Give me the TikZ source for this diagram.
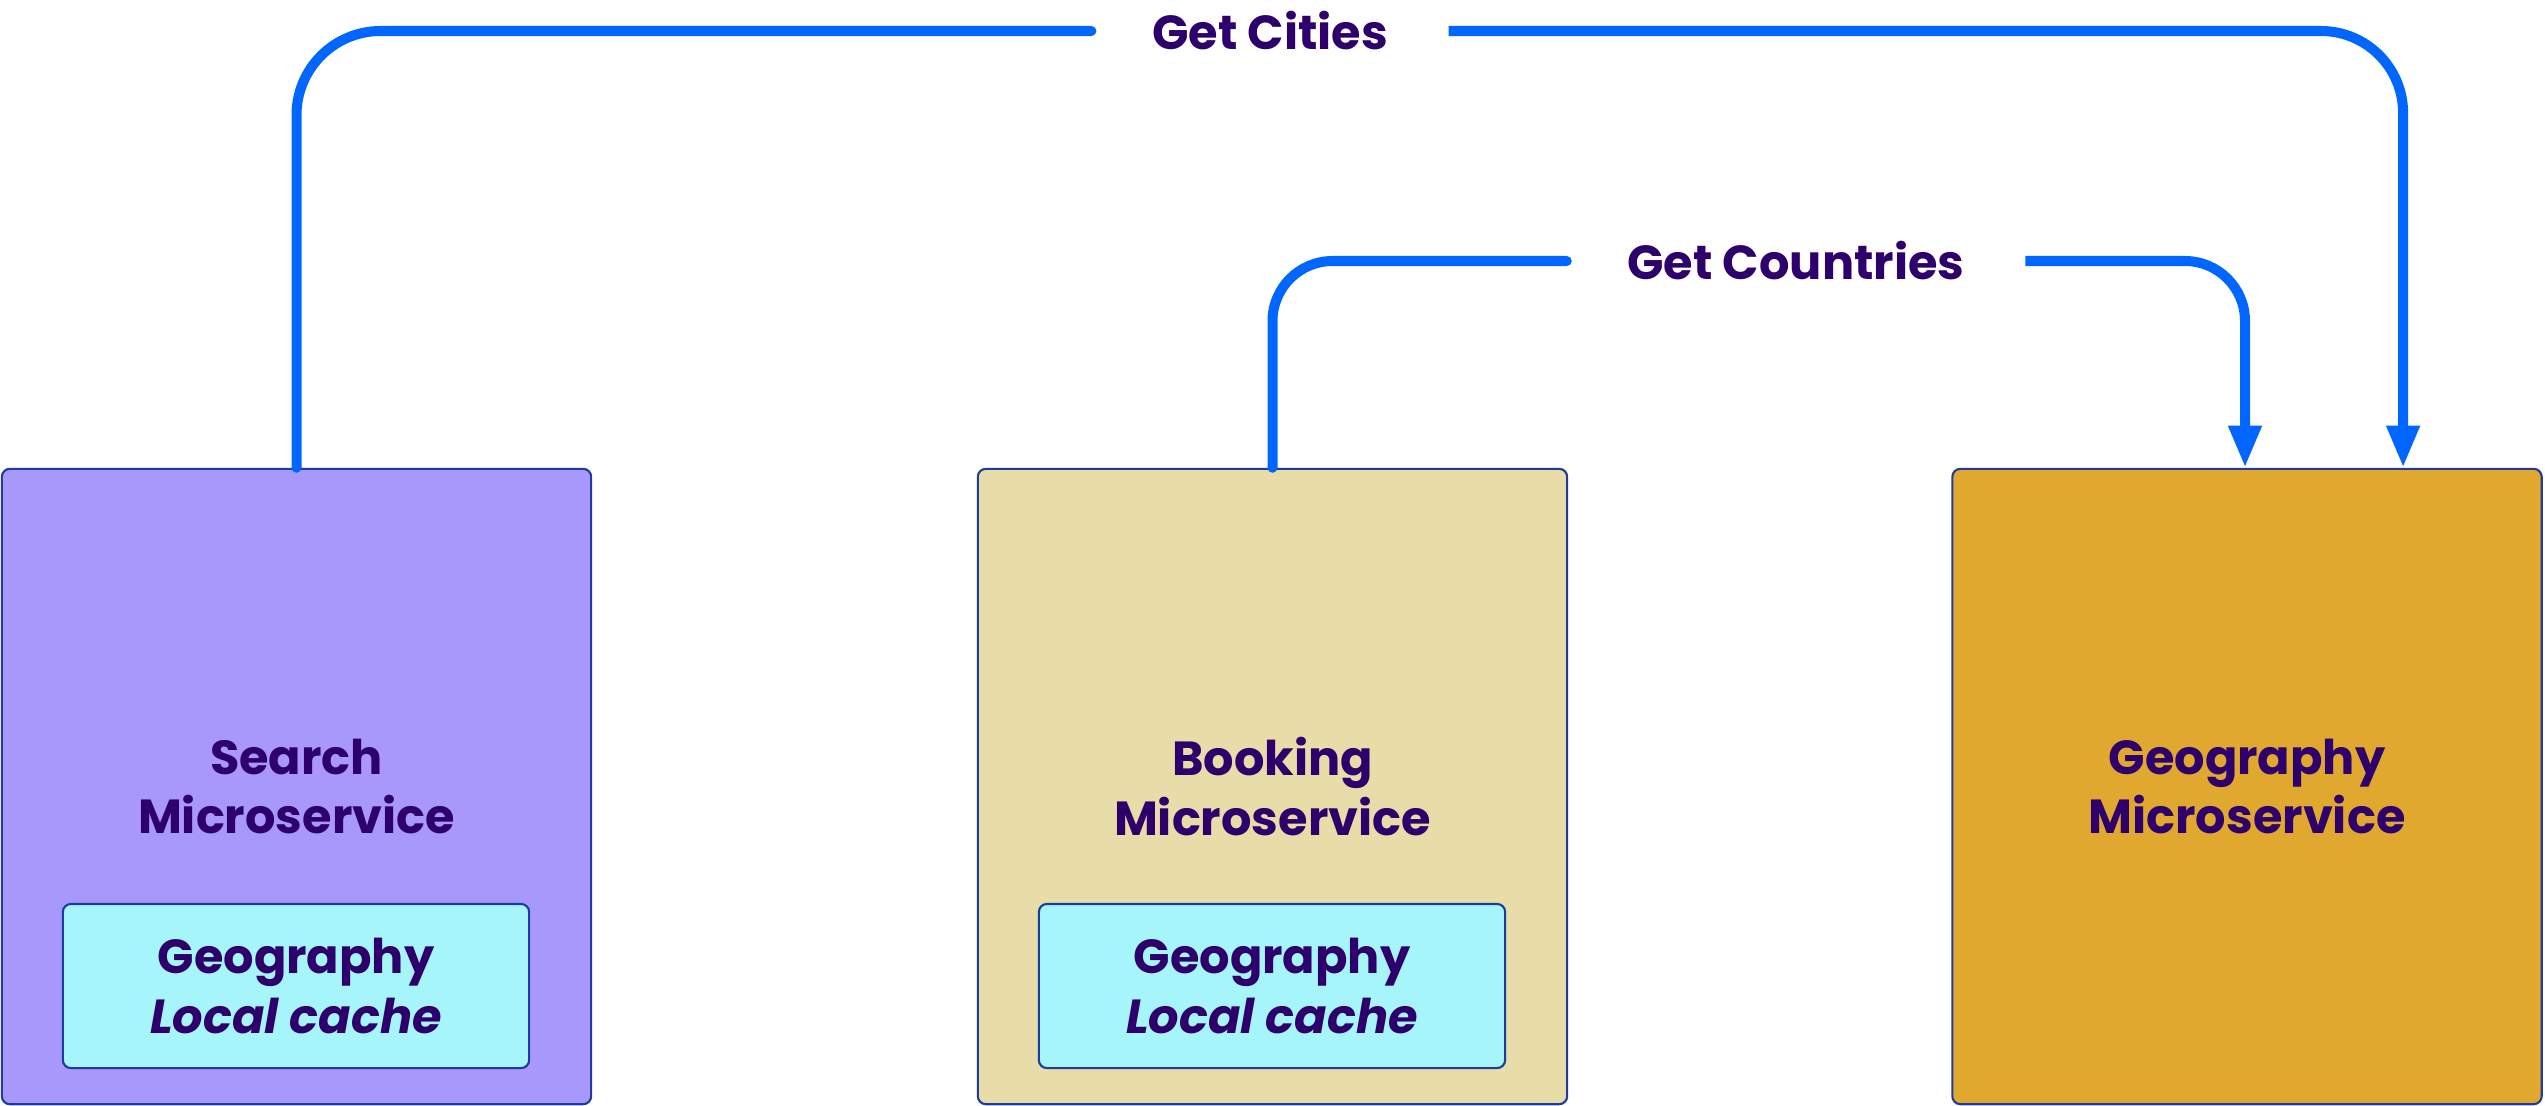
\documentclass[tikz,border=0pt]{standalone}
\usepackage{fontspec}
\setmainfont{Poppins}
\usetikzlibrary{arrows.meta}
\definecolor{searchfill}{HTML}{A898FB}
\definecolor{bookfill}{HTML}{E8DCA8}
\definecolor{geofill}{HTML}{E1A82F}
\definecolor{cachefill}{HTML}{A5F5FA}
\definecolor{edgeblue}{HTML}{1F3C9C}
\definecolor{linkblue}{HTML}{0066FF}
\definecolor{txt}{HTML}{2D006B}
\begin{document}
\begin{tikzpicture}[x=0.01cm,y=-0.01cm,
  txtstyle/.style={text=txt,font=\fontsize{13.6}{16.9}\selectfont\bfseries,align=center},
  svc/.style={txtstyle,draw=edgeblue,line width=0.6pt,rounded corners=0.08cm,
    minimum width=5.89cm,minimum height=6.35cm,inner sep=0pt},
  cache/.style={txtstyle,draw=edgeblue,fill=cachefill,line width=0.6pt,rounded corners=0.08cm,
    minimum width=4.66cm,minimum height=1.64cm,inner sep=0pt},
  lbl/.style={txtstyle,inner xsep=0.6cm,inner ysep=0pt},
  conn/.style={draw=linkblue,line width=0.1cm,line cap=round},
  tip/.style={-{Triangle[width=0.31cm,length=0.42cm]}}
]
\useasboundingbox (0,0) rectangle (2545,1106);
\node[svc,fill=searchfill] (search) at (296.5,786.5) {Search\\Microservice};
\node[cache] (cache1) at (296,986) {Geography\\\itshape Local cache};
\node[svc,fill=bookfill] (booking) at (1272.5,786.5) {Booking\\Microservice};
\node[cache] (cache2) at (1272,986) {Geography\\\itshape Local cache};
\node[svc,fill=geofill] (geo) at (2247,786.5) {Geography\\Microservice};
\node[lbl] (cities) at (1270,31) {Get Cities};
\node[lbl] (countries) at (1796,261) {Get Countries};
\draw[conn,rounded corners=0.84cm] (search.north) |- (cities.west);
\draw[conn,tip,rounded corners=0.82cm,line cap=butt] (cities.east) -| ([xshift=1.56cm]geo.north);
\draw[conn,rounded corners=0.6cm] (booking.north) |- (countries.west);
\draw[conn,tip,rounded corners=0.6cm,line cap=butt] (countries.east) -| ([xshift=-0.02cm]geo.north);
\end{tikzpicture}
\end{document}
